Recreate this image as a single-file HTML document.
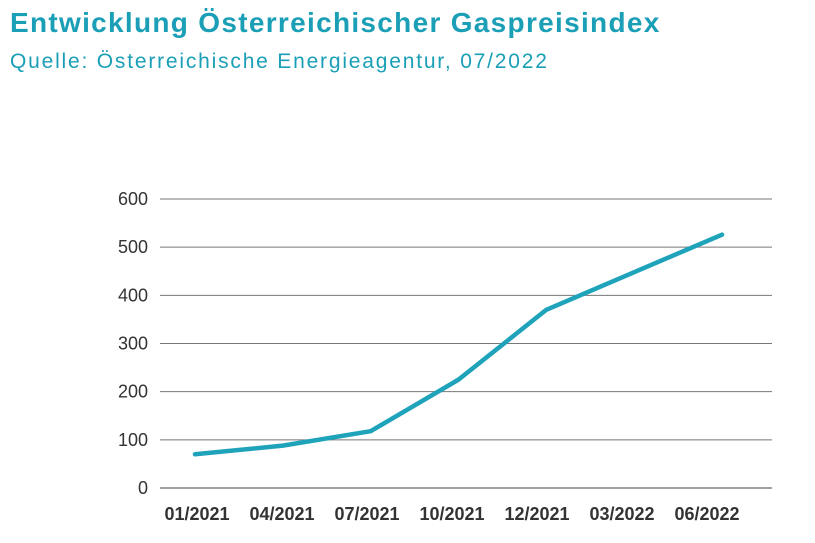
<!DOCTYPE html>
<html><head><meta charset="utf-8"><style>
body{margin:0;width:815px;height:543px;background:#fff;overflow:hidden;font-family:"Liberation Sans",sans-serif}
#t{position:absolute;left:10px;top:7px;font-size:28px;font-weight:bold;color:#1a9fb7;letter-spacing:1.3px;white-space:nowrap}
#s{position:absolute;left:10px;top:50px;font-size:21px;color:#1a9fb7;letter-spacing:1.8px;white-space:nowrap}
</style></head><body>
<div id="t">Entwicklung Österreichischer Gaspreisindex</div>
<div id="s">Quelle: Österreichische Energieagentur, 07/2022</div>
<svg id="c" width="815" height="543" style="position:absolute;left:0;top:0"></svg>
<script>
const categories=["01/2021","04/2021","07/2021","10/2021","12/2021","03/2022","06/2022"];
const values=[70,88,118,225,370,448,526];
const yTicks=[0,100,200,300,400,500,600];
const svg=document.getElementById('c');const NS="http://www.w3.org/2000/svg";
const y=v=>488-v*(289/600);
const x=i=>195+i*(527/(categories.length-1));
const lx=i=>197+i*85;
function mk(t,a){const e=document.createElementNS(NS,t);for(const k in a)e.setAttribute(k,a[k]);svg.appendChild(e);return e;}
yTicks.forEach(v=>{
 const l=mk('line',{x1:160,x2:772,y1:y(v),y2:y(v),stroke:v===0?'#444':'#777','stroke-width':1});
 
 
 const t=mk('text',{x:148,y:y(v)+6,'text-anchor':'end','font-size':18,fill:'#333','font-family':'Liberation Sans, sans-serif'});
 t.textContent=v;
 
 
});
categories.forEach((c,i)=>{
 const t=mk('text',{x:lx(i),y:520,'text-anchor':'middle','font-size':18,'font-weight':'bold',fill:'#333','font-family':'Liberation Sans, sans-serif'});
 t.textContent=c;
 
 
});
const p=mk('polyline',{points:values.map((v,i)=>x(i)+','+y(v)).join(' '),fill:'none',stroke:'#1fa3bb','stroke-width':4.5,'stroke-linecap':'round','stroke-linejoin':'round'});


</script>
</body></html>
